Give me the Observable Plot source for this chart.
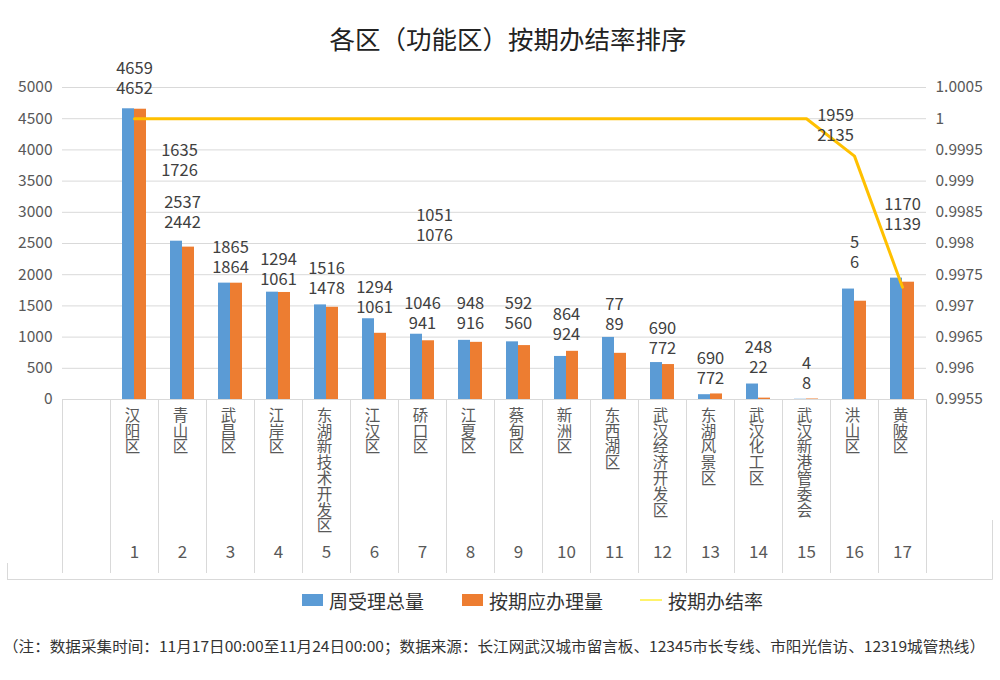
<!DOCTYPE html>
<html><head><meta charset="utf-8">
<script src="https://cdn.jsdelivr.net/npm/d3@7"></script>
<script src="https://cdn.jsdelivr.net/npm/@observablehq/plot@0.6"></script>
<style>
body{margin:0;background:#fff;}
#chart{position:relative;width:1000px;height:680px;}
</style></head><body><div id="chart"></div>
<script>
const ids = ["1","2","3","4","5","6","7","8","9","10","11","12","13","14","15","16","17"];
const districts = ["汉阳区","青山区","武昌区","江岸区","东湖新技术开发区","江汉区","硚口区","江夏区","蔡甸区","新洲区","东西湖区","武汉经济开发区","东湖风景区","武汉化工区","武汉新港管委会","洪山区","黄陂区"];
const totals = [4659, 2537, 1865, 1720, 1516, 1294, 1046, 948, 924, 690, 995, 592, 77, 248, 4, 1770, 1945];
const due    = [4652, 2442, 1864, 1715, 1478, 1061, 941, 916, 864, 772, 740, 560, 89, 22, 8, 1575, 1880];
const rates  = [1, 1, 1, 1, 1, 1, 1, 1, 1, 1, 1, 1, 1, 1, 1, 0.9994, 0.9973];
// data labels as printed on the reference (two lines) and the value level they sit at
const labelTop    = ["4659","2537","1865","1294","1516","1294","1046","948","592","864","77","690","690","248","4","5","1170"];
const labelBottom = ["4652","2442","1864","1061","1478","1061","941","916","560","924","89","772","772","22","8","6","1139"];
const labelLevel  = [4984, 2837, 2115, 1923, 1779, 1474, 1218, 1218, 1218, 1042, 1202, 817, 337, 513, 256, 2196, 2804];
const extraCat    = ["2","7","16"];
const extraTop    = ["1635","1051","1959"];
const extraBottom = ["1726","1076","2135"];
const extraLevel  = [3670, 2628, 4231];
const leftTicks  = [0, 500, 1000, 1500, 2000, 2500, 3000, 3500, 4000, 4500, 5000];
const rightTicks = ["0.9955","0.996","0.9965","0.997","0.9975","0.998","0.9985","0.999","0.9995","1","1.0005"];
const rateMin = 0.9955, rateMax = 1.0005, leftMax = 5000;
const seriesNames = ["周受理总量","按期应办理量","按期办结率"];
const titleText = "各区（功能区）按期办结率排序";
const noteText = "（注：数据采集时间：11月17日00:00至11月24日00:00；数据来源：长江网武汉城市留言板、12345市长专线、市阳光信访、12319城管热线）";

const F = '"Noto Sans CJK SC","Noto Sans",sans-serif';
const BLUE = "#5B9BD5", ORANGE = "#ED7D31", GOLD = "#FFC000";
const rows = ids.map((id, i) => ({id, name: districts[i], total: totals[i], due: due[i], rate: rates[i],
  top: labelTop[i], bottom: labelBottom[i], level: labelLevel[i]}));
const extras = extraCat.map((id, i) => ({id, top: extraTop[i], bottom: extraBottom[i], level: extraLevel[i]}));
const toLeft = r => (r - rateMin) / (rateMax - rateMin) * leftMax;
const extraDx = [-3, 12, -19];

const labelStyle = {fontSize: 16.5, fill: "#404040"};
const plot = Plot.plot({
  width: 1000, height: 680, marginTop: 87, marginBottom: 281, marginLeft: 62, marginRight: 74,
  style: {fontFamily: F, background: "transparent", color: "#595959"},
  x: {type: "band", domain: ids, range: [110, 926], padding: 0, axis: null},
  y: {domain: [0, leftMax], axis: null},
  marks: [
    Plot.ruleY(leftTicks, {stroke: "#D9D9D9", strokeWidth: 1}),
    Plot.axisY(leftTicks, {anchor: "left", tickSize: 0, tickPadding: 10, fontSize: 15.5, tickFormat: d => String(d)}),
    Plot.axisY(leftTicks, {anchor: "right", tickSize: 0, tickPadding: 9, fontSize: 15.5, tickFormat: d => rightTicks[leftTicks.indexOf(d)]}),
    Plot.barY(rows, {x: "id", y: "total", fill: BLUE, insetLeft: 12, insetRight: 24}),
    Plot.barY(rows, {x: "id", y: "due", fill: ORANGE, insetLeft: 24, insetRight: 12}),
    Plot.line(rows, {x: "id", y: d => toLeft(d.rate), stroke: GOLD, strokeWidth: 3}),
    Plot.text(rows, {x: "id", y: "level", text: "bottom", ...labelStyle}),
    Plot.text(rows, {x: "id", y: "level", text: "top", dy: -20, ...labelStyle}),
    ...extras.map((e, i) => Plot.text([e], {x: "id", y: "level", text: "bottom", dx: extraDx[i], ...labelStyle})),
    ...extras.map((e, i) => Plot.text([e], {x: "id", y: "level", text: "top", dy: -20, dx: extraDx[i], ...labelStyle})),
    Plot.text(rows, {x: "id", text: d => [...d.name].join("\n"), frameAnchor: "bottom", lineAnchor: "top", dy: 10, dx: -2, fontSize: 15.5, lineHeight: 1.02, fill: "#595959"}),
    Plot.text(rows, {x: "id", text: "id", frameAnchor: "bottom", dy: 158, fontSize: 17, fill: "#595959"})
  ]
});
document.getElementById("chart").appendChild(plot);

const svg = d3.select(plot);
const xs = plot.scale("x"), ys = plot.scale("y");
const y0 = ys.apply(0);
const deco = svg.append("g").attr("stroke", "#D9D9D9").attr("stroke-width", 1).attr("fill", "none");
const seps = [62, ...ids.map(id => xs.apply(id)), xs.apply(ids[ids.length - 1]) + xs.bandwidth];
seps.forEach(x => deco.append("line").attr("x1", Math.round(x) + 0.5).attr("x2", Math.round(x) + 0.5).attr("y1", y0).attr("y2", 573));
deco.append("line").attr("x1", 7).attr("x2", 992.5).attr("y1", 579.5).attr("y2", 579.5);
deco.append("line").attr("x1", 7.5).attr("x2", 7.5).attr("y1", 563).attr("y2", 579.5);
deco.append("line").attr("x1", 992.5).attr("x2", 992.5).attr("y1", 520).attr("y2", 579.5);

// title
svg.append("text").attr("x", 508).attr("y", 37).attr("text-anchor", "middle").attr("dominant-baseline", "central")
  .attr("font-family", F).attr("font-size", 25.5).attr("fill", "#222").text(titleText);

// legend
const lg = svg.append("g").attr("font-family", F).attr("font-size", 19).attr("fill", "#333").attr("text-anchor", "start");
lg.append("rect").attr("x", 302).attr("y", 594).attr("width", 21).attr("height", 12).attr("fill", BLUE);
lg.append("text").attr("x", 329).attr("y", 600).attr("text-anchor", "start").attr("dominant-baseline", "central").text(seriesNames[0]);
lg.append("rect").attr("x", 462).attr("y", 594).attr("width", 21).attr("height", 12).attr("fill", ORANGE);
lg.append("text").attr("x", 489).attr("y", 600).attr("text-anchor", "start").attr("dominant-baseline", "central").text(seriesNames[1]);
lg.append("line").attr("x1", 640).attr("x2", 662).attr("y1", 600).attr("y2", 600).attr("stroke", "#FFEF3A").attr("stroke-width", 1.5);
lg.append("text").attr("x", 668).attr("y", 600).attr("text-anchor", "start").attr("dominant-baseline", "central").text(seriesNames[2]);

// footnote
svg.append("text").attr("x", 3).attr("y", 645).attr("text-anchor", "start").attr("dominant-baseline", "central")
  .attr("font-family", F).attr("font-size", 15).attr("fill", "#333")
  .attr("textLength", 982).attr("lengthAdjust", "spacingAndGlyphs").text(noteText);
</script></body></html>
